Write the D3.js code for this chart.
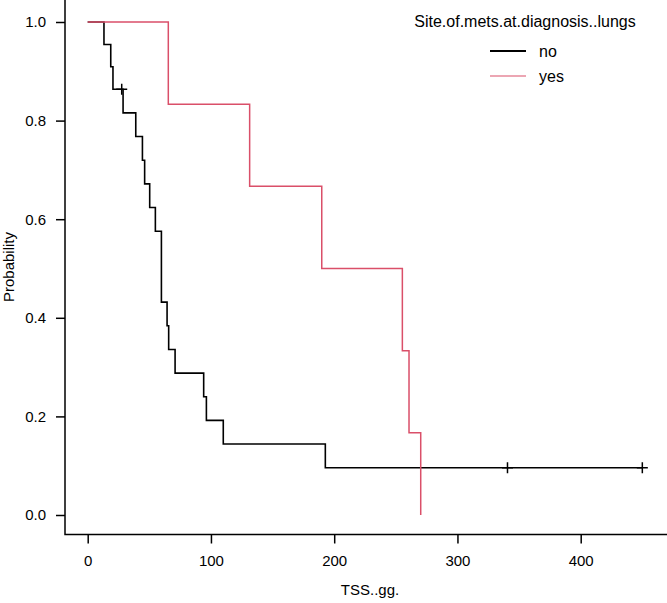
<!DOCTYPE html>
<html>
<head>
<meta charset="utf-8">
<script src="https://cdn.jsdelivr.net/npm/d3@7"></script>
<style>
  body { margin: 0; background: #fff; }
  svg text { font-family: "Liberation Sans", Arial, sans-serif; fill: #000; }
</style>
</head>
<body>
<div id="chart"></div>
<script>
// Kaplan-Meier steps
var noTimes  = [0, 13.2, 18.7, 20.5, 28.7, 39, 44.4, 46.2, 50.3, 54.9, 59.8, 64.4, 65.7, 70.9, 94.1, 96.3, 110, 192.8, 450];
var noSurv   = [1, 0.9545, 0.9091, 0.8636, 0.8157, 0.7677, 0.7197, 0.6717, 0.6237, 0.5757, 0.4318, 0.3838, 0.3358, 0.2878, 0.2399, 0.1919, 0.1439, 0.0959, 0.0959];
var noCensorTimes = [27.6, 340.6, 450];
var noCensorSurv  = [0.8636, 0.0959, 0.0959];

var yesTimes = [0, 65.4, 131.4, 189.9, 255.3, 260.7, 270.2];
var yesSurv  = [1, 0.8333, 0.6667, 0.5, 0.3333, 0.1667, 0];

var groups = ["no", "yes"];
var xTicks = [0, 100, 200, 300, 400];
var yTicks = [0, 0.2, 0.4, 0.6, 0.8, 1.0];

var width = 667, height = 603;
var axisX = 65, axisY = 534.5;

var svg = d3.select("#chart")
  .append("svg")
    .attr("width", width)
    .attr("height", height);

var x = d3.scaleLinear().domain([0, 400]).range([87.7, 580.7]);
var y = d3.scaleLinear().domain([0, 1]).range([515, 22]);
var color = d3.scaleOrdinal().domain(groups).range(["#000000", "#DA4F69"]);

// axes
var xAxis = svg.append("g")
  .attr("transform", `translate(0,${axisY})`)
  .call(d3.axisBottom(x).tickValues(xTicks).tickSize(9).tickPadding(12).tickFormat(d3.format("d")));
var yAxis = svg.append("g")
  .attr("transform", `translate(${axisX},0)`)
  .call(d3.axisLeft(y).tickValues(yTicks).tickSize(9).tickPadding(10).tickFormat(d3.format(".1f")));

[xAxis, yAxis].forEach(function(a) {
  a.select(".domain").remove();
  a.selectAll("line").attr("stroke", "#000").attr("stroke-width", 1.5);
  a.selectAll("text").style("font-size", "15px").style("font-family", "Liberation Sans, Arial, sans-serif");
});

svg.append("path")
  .attr("d", `M${axisX},0V${axisY}H${width}`)
  .attr("fill", "none")
  .attr("stroke", "#000")
  .attr("stroke-width", 1.5);

// axis titles
svg.append("text")
  .attr("x", 370)
  .attr("y", 595)
  .attr("text-anchor", "middle")
  .style("font-size", "15px")
  .text("TSS..gg.");

svg.append("text")
  .attr("transform", "translate(14,267) rotate(-90)")
  .attr("text-anchor", "middle")
  .style("font-size", "15px")
  .text("Probability");

// survival curves
var line = d3.line()
  .x(d => x(d[0]))
  .y(d => y(d[1]))
  .curve(d3.curveStepAfter);

var curves = [
  { group: "no",  values: d3.zip(noTimes, noSurv),   width: 1.6 },
  { group: "yes", values: d3.zip(yesTimes, yesSurv), width: 1.5 }
];

svg.selectAll(".curve")
  .data(curves)
  .enter()
  .append("path")
    .attr("class", "curve")
    .attr("fill", "none")
    .attr("stroke", d => color(d.group))
    .attr("stroke-width", d => d.width)
    .attr("d", d => line(d.values));

// censor marks
svg.selectAll(".censor")
  .data(d3.zip(noCensorTimes, noCensorSurv))
  .enter()
  .append("path")
    .attr("class", "censor")
    .attr("fill", "none")
    .attr("stroke", "#000")
    .attr("stroke-width", 1.5)
    .attr("d", d => `M${x(d[0]) - 5.5},${y(d[1])}h11M${x(d[0])},${y(d[1]) - 5.5}v11`);

// legend
svg.append("text")
  .attr("x", 525)
  .attr("y", 27)
  .attr("text-anchor", "middle")
  .style("font-size", "16px")
  .text("Site.of.mets.at.diagnosis..lungs");

var legend = svg.selectAll(".legend")
  .data(groups)
  .enter()
  .append("g")
    .attr("class", "legend")
    .attr("transform", (d, i) => `translate(490,${51 + i * 25})`);

legend.append("line")
  .attr("x1", 0)
  .attr("x2", 36)
  .attr("stroke", d => color(d))
  .attr("stroke-width", d => d === "no" ? 2 : 1.2);

legend.append("text")
  .attr("x", 49)
  .attr("y", 5.5)
  .style("font-size", "16px")
  .text(d => d);
</script>
</body>
</html>
